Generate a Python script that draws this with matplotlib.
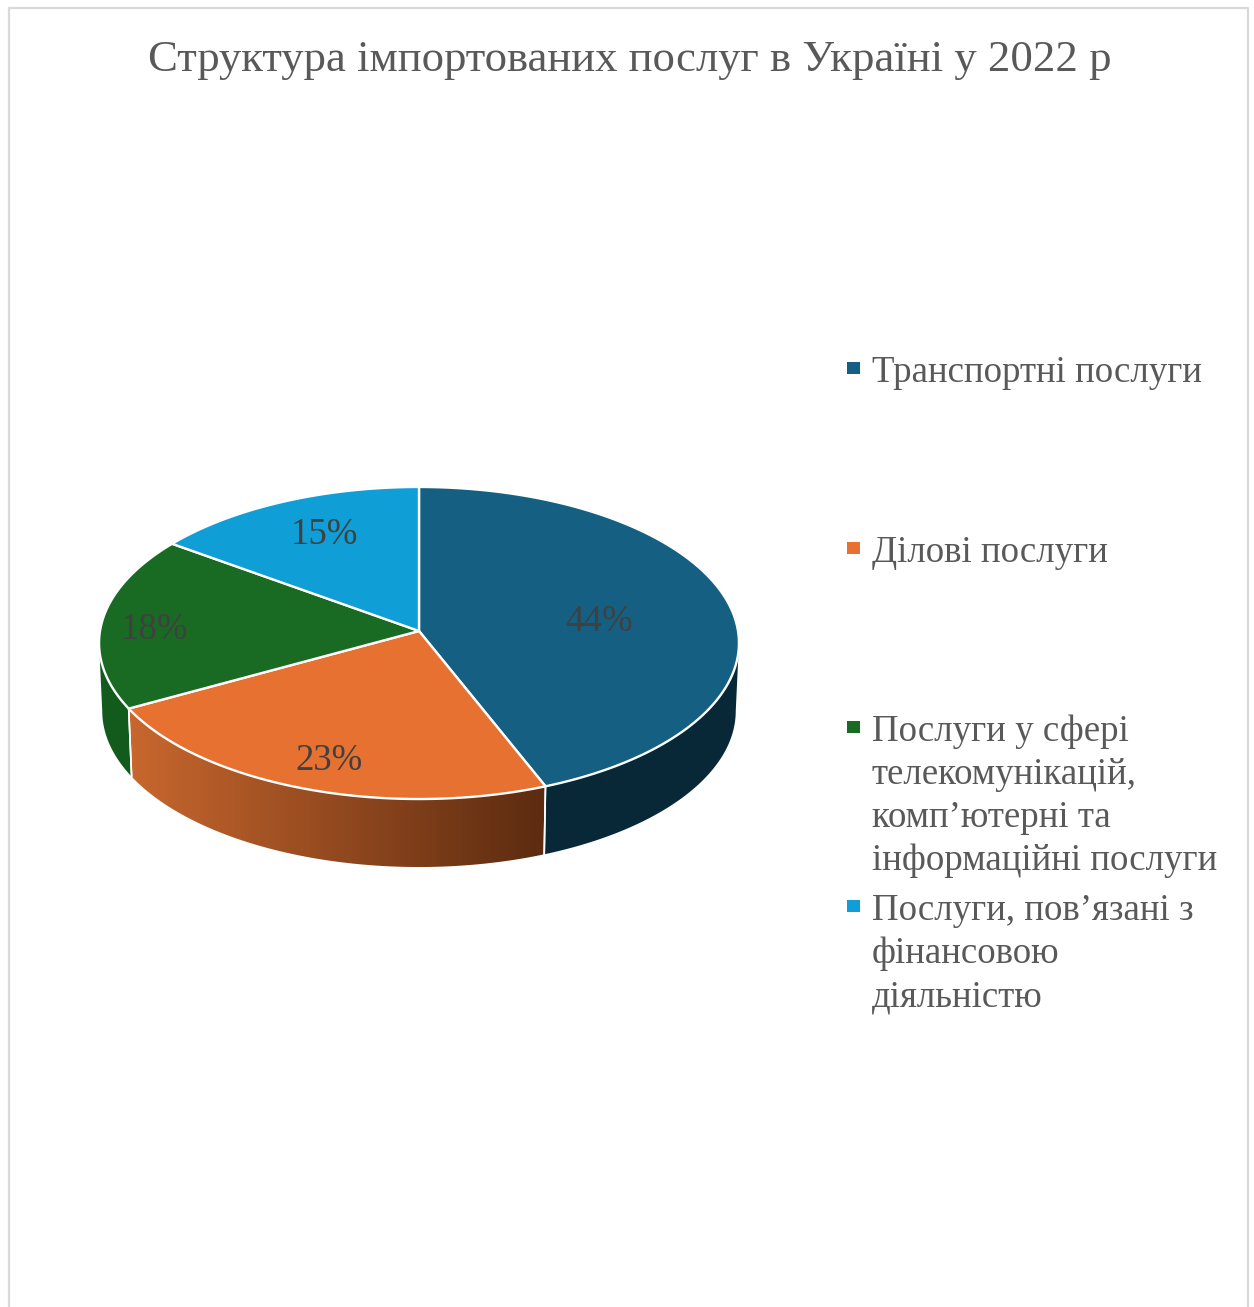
import matplotlib
matplotlib.use("Agg")
import matplotlib.pyplot as plt
import numpy as np
from matplotlib.colors import LinearSegmentedColormap
from matplotlib.patches import Polygon, Rectangle

plt.rcParams["font.family"] = ["Liberation Serif", "DejaVu Serif"]

TITLE = "Структура імпортованих послуг в Україні у 2022 р"
CATEGORIES = [
    "Транспортні послуги",
    "Ділові послуги",
    "Послуги у сфері\nтелекомунікацій,\nкомп’ютерні та\nінформаційні послуги",
    "Послуги, пов’язані з\nфінансовою\nдіяльністю",
]
SHARES = [44, 23, 18, 15]
COLORS = ["#156082", "#E77131", "#196B24", "#0F9ED5"]
SIDE_COLORS = ["#082838", None, "#135A1D", "#0B6F96"]

# label centres and legend first-line baselines, in image pixels
LABEL_XY = [(599, 622), (329, 761), (154, 630), (324, 535)]
LEGEND_Y = [382, 562, 741, 920]

# pie geometry, in image pixels: a tilted disc with a little perspective
CX, CY = 419, 631
HALF_W, HALF_H, PERSP = 319, 155.1, 0.0769
DEPTH = 68
BOTTOM_SCALE = 0.99


def rim(theta, shrink=1.0, drop=0.0):
    """Point(s) on the disc edge; theta runs clockwise from 12 o'clock."""
    u, v = np.sin(theta), np.cos(theta)
    d = 1 + PERSP * v
    return CX + shrink * HALF_W * u / d, CY - HALF_H * v / d + drop


def side_poly(t0, t1):
    t = np.linspace(t0, t1, 120)
    xt, yt = rim(t)
    xb, yb = rim(t, BOTTOM_SCALE, DEPTH)
    return np.r_[np.c_[xt, yt], np.c_[xb, yb][::-1]]


fig = plt.figure(figsize=(12.54, 13.07), dpi=100)
ax = fig.add_axes([0, 0, 1, 1])
ax.set_xlim(0, 1254)
ax.set_ylim(1307, 0)
ax.axis("off")

# chart frame, open at the bottom of the crop
ax.plot([8.5, 8.5, 1248, 1248], [1307, 7.5, 7.5, 1307], color="#D9D9D9", lw=1.6)

ax.text(630, 71, TITLE, ha="center", va="baseline", fontsize=32.2, color="#595959")

edges = np.r_[0, np.cumsum(SHARES)] / sum(SHARES) * 2 * np.pi
limit = np.arccos(-PERSP)  # where the disc outline turns, side wall starts here

# side walls first, only the part facing the viewer
for i in range(len(SHARES)):
    t0 = max(edges[i], limit)
    t1 = min(edges[i + 1], 2 * np.pi - limit)
    if t1 <= t0:
        continue
    pts = side_poly(t0, t1)
    if SIDE_COLORS[i] is None:
        patch = Polygon(pts, closed=True, fc="none", ec="none")
        ax.add_patch(patch)
        cmap = LinearSegmentedColormap.from_list("wall", ["#C8672E", "#5C2B10"])
        img = ax.imshow(np.linspace(0, 1, 256)[None, :], cmap=cmap, aspect="auto",
                        extent=(pts[:, 0].min(), pts[:, 0].max(), pts[:, 1].max(), pts[:, 1].min()),
                        zorder=1)
        img.set_clip_path(patch)
        ax.set_xlim(0, 1254)
        ax.set_ylim(1307, 0)
    else:
        ax.add_patch(Polygon(pts, closed=True, fc=SIDE_COLORS[i], ec="none", zorder=1))
    for t in (edges[i], edges[i + 1]):
        if limit < t < 2 * np.pi - limit:
            x0, y0 = rim(t)
            x1, y1 = rim(t, BOTTOM_SCALE, DEPTH)
            ax.plot([x0, x1], [y0, y1], color="white", lw=1.2, zorder=2)

# top face
for i, col in enumerate(COLORS):
    t = np.linspace(edges[i], edges[i + 1], 200)
    x, y = rim(t)
    pts = np.r_[[[CX, CY]], np.c_[x, y]]
    ax.add_patch(Polygon(pts, closed=True, fc=col, ec="white", lw=1.7, joinstyle="round", zorder=3))

for xy, share in zip(LABEL_XY, SHARES):
    ax.text(xy[0], xy[1], f"{share}%", ha="center", va="center", fontsize=26.5,
            color="#404040", zorder=4)

# legend
for name, col, y0 in zip(CATEGORIES, COLORS, LEGEND_Y):
    ax.add_patch(Rectangle((847, y0 - 20), 13, 12, fc=col, ec="none"))
    for j, line in enumerate(name.split("\n")):
        ax.text(872, y0 + j * 43, line, ha="left", va="baseline", fontsize=26.6, color="#595959")

fig.savefig("out.png", dpi=100, facecolor="white")
